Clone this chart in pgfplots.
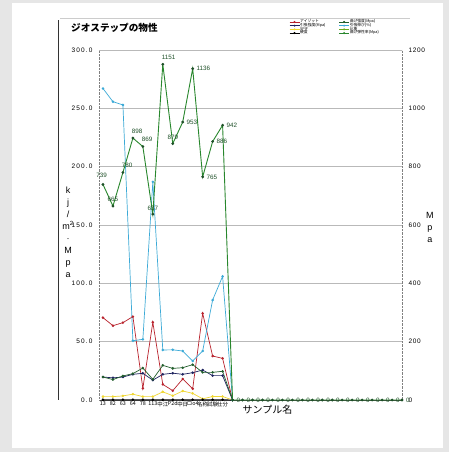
\documentclass[border=0pt]{standalone}
\usepackage{fontspec}
\setmainfont{Liberation Sans}
\newfontfamily\jp{Noto Sans CJK JP}
\usepackage{pgfplots}
\usepackage{pgfplotstable}
\pgfplotsset{compat=1.18}

\definecolor{izred}{RGB}{185,35,45}
\definecolor{tennavy}{RGB}{30,35,95}
\definecolor{spyellow}{RGB}{240,215,50}
\definecolor{dkgreen}{RGB}{35,95,45}
\definecolor{elcyan}{RGB}{60,170,215}
\definecolor{modgreen}{RGB}{40,135,45}
\definecolor{lblgreen}{RGB}{30,80,40}
\definecolor{bggray}{RGB}{230,230,230}

% left axis series (kj/m2, Mpa, %)
\pgfplotstableread{
x  izod tens spif hard flexs elong
0  70.6 19.7 2.9  0.3  19.7  267
1  63.7 19.0 2.9  0.3  17.5  255.7
2  66.3 19.7 3.5  0.3  20.6  252.9
3  71.5 22.0 5.0  0.3  22.6  50.8
4  10.0 22.9 2.9  0.3  27.4  52.0
5  66.6 17.0 2.9  0.3  17.7  187
6  13.4 22.0 7.0  0.3  29.7  42.9
7  8.0  23.0 3.7  0.3  27.1  43.0
8  18.0 22.0 7.7  0.3  27.7  42.0
9  9.7  23.4 5.7  0.3  30.3  33.4
10 74.3 25.7 1.0  0.3  23.7  42.0
11 37.7 20.9 3.0  0.3  23.7  85.7
12 35.7 20.9 3.0  0.3  24.6  106
13 0    0    0    0    0     0
}\leftdata

% right axis series (Mpa); pos = label side: 1 south east, 2 south, 3 south west, 4 west
\pgfplotstableread{
x  mod  pos
0  739  1
1  665  2
2  780  3
3  898  3
4  869  3
5  637  2
6  1151 3
7  879  2
8  953  4
9  1136 4
10 765  4
11 886  4
12 942  4
13 0    4
14 0    4
15 0    4
16 0    4
17 0    4
18 0    4
19 0    4
20 0    4
21 0    4
22 0    4
23 0    4
24 0    4
25 0    4
26 0    4
27 0    4
28 0    4
29 0    4
30 0    4
}\moddata

\pgfplotsset{
  modlabels/.style={draw=none, nodes near coords, point meta=y,
    restrict expr to domain={\thisrow{pos}}{#1:#1},
    every node near coord/.append style={inner sep=0.8pt,
      text=lblgreen, font=\fontsize{6.3}{6.3}\selectfont}},
}

\begin{document}
\begin{tikzpicture}[x=1pt,y=1pt]
\useasboundingbox (0,0) rectangle (449,452);
\fill[bggray] (0,0) rectangle (449,452);
\fill[white] (12,4) rectangle (443,449);
\draw[black!80, line width=0.6pt] (58,52) -- (58,432);
\draw[gray!40, line width=0.4pt] (60,434) -- (410,434);
\node[anchor=west, inner sep=0pt, font=\jp\bfseries\fontsize{9.6}{9.6}\selectfont] at (71,424) {ジオステップの物性};

\begin{axis}[
  at={(99pt,52pt)}, anchor=south west,
  scale only axis, width=303pt, height=350pt,
  xmin=-0.4, xmax=30, ymin=0, ymax=300,
  clip=false,
  axis x line*=bottom, axis y line*=left,
  x axis line style={black!75, line width=0.5pt, -},
  y axis line style={gray, densely dotted, -},
  major tick length=0pt,
  xtick={0,...,12},
  xticklabels={13,82,63,64,78,113,中江,P2d,中日,ロo4,名称,試験,仕分},
  xticklabel style={font=\jp\fontsize{5.4}{5.5}\selectfont, inner sep=0.5pt, yshift=-1pt},
  ytick={0,50,...,300},
  /pgf/number format/fixed, /pgf/number format/fixed zerofill,
  /pgf/number format/precision=1, /pgf/number format/assume math mode=true,
  yticklabel style={font=\fontsize{6.5}{6.5}\selectfont\addfontfeature{LetterSpace=18}, xshift=-3pt},
  ymajorgrids, grid style={gray!55, line width=0.4pt},
  ylabel={k\\j\\/\\m\textsuperscript{2}\\·\\M\\p\\a},
  ylabel style={rotate=-90, align=center, anchor=center,
    font=\fontsize{9}{12}\selectfont, at={(axis description cs:-0.102,0.48)}},
  xlabel={サンプル名},
  xlabel style={anchor=center, font=\jp\fontsize{10}{10}\selectfont,
    at={(axis description cs:0.556,-0.029)}},
  every axis plot/.append style={line width=0.7pt, mark=*, mark size=0.9pt},
  legend columns=4, transpose legend,
  legend cell align=left,
  legend style={at={(axis description cs:0.627,1.086)}, anchor=north west,
    draw=none, fill=none, font=\jp\fontsize{3.8}{3.8}\selectfont,
    inner sep=0pt, row sep=0pt,
    nodes={inner sep=0.3pt, text height=2.5pt, text depth=0.6pt},
    /tikz/every even column/.append style={column sep=13pt}},
  legend image code/.code={
    \draw[mark repeat=2, mark phase=2, mark size=0.6pt, #1]
      plot coordinates {(0pt,0pt) (5pt,0pt) (10pt,0pt)};},
]
\addplot[izred, mark options={fill=izred}] table[x=x, y=izod] {\leftdata};
\addplot[tennavy, mark options={fill=tennavy}] table[x=x, y=tens] {\leftdata};
\addplot[spyellow, mark options={fill=spyellow}] table[x=x, y=spif] {\leftdata};
\addplot[black, mark options={fill=black}] table[x=x, y=hard] {\leftdata};
\addplot[dkgreen, mark options={fill=dkgreen}] table[x=x, y=flexs] {\leftdata};
\addplot[elcyan, mark options={fill=elcyan}] table[x=x, y=elong] {\leftdata};
\addlegendimage{modgreen!70!yellow, line width=0.7pt, mark=*, mark options={fill=modgreen}}
\addlegendimage{modgreen, line width=0.7pt, mark=*, mark options={fill=modgreen}}
\legend{アイゾット, 引張強度(Mpa), SPIF, 硬度, 曲げ強度(Mpa), 引張伸び(\%), 比重, 曲げ弾性率(Mpa)}
\end{axis}

\begin{axis}[
  at={(99pt,52pt)}, anchor=south west,
  scale only axis, width=303pt, height=350pt,
  xmin=-0.4, xmax=30, ymin=0, ymax=1200,
  clip=false,
  axis x line=none, axis y line*=right,
  y axis line style={gray, densely dotted, -},
  major tick length=0pt,
  ytick={0,200,...,1200},
  /pgf/number format/1000 sep={}, /pgf/number format/assume math mode=true,
  yticklabel style={font=\fontsize{6.5}{6.5}\selectfont\addfontfeature{LetterSpace=10}, xshift=3pt},
  ylabel={M\\p\\a},
  ylabel style={rotate=-90, align=center, anchor=center,
    font=\fontsize{9}{12}\selectfont, at={(axis description cs:1.092,0.494)}},
  nodes near coords style={/pgf/number format/1000 sep={}},
]
\addplot[modgreen, line width=0.9pt, mark=*, mark size=0.9pt,
  mark options={fill=lblgreen, draw=lblgreen}] table[x=x, y=mod] {\moddata};
\addplot[modlabels=1, every node near coord/.append style={anchor=south east, yshift=6pt, xshift=5pt}]
  table[x=x, y=mod] {\moddata};
\addplot[modlabels=2, every node near coord/.append style={anchor=south, yshift=3pt}]
  table[x=x, y=mod] {\moddata};
\addplot[modlabels=3, every node near coord/.append style={anchor=south west, yshift=4pt, xshift=-2pt}]
  table[x=x, y=mod] {\moddata};
\addplot[modlabels=4, every node near coord/.append style={anchor=west, xshift=3pt}]
  table[x=x, y=mod] {\moddata};
\end{axis}
\end{tikzpicture}
\end{document}
